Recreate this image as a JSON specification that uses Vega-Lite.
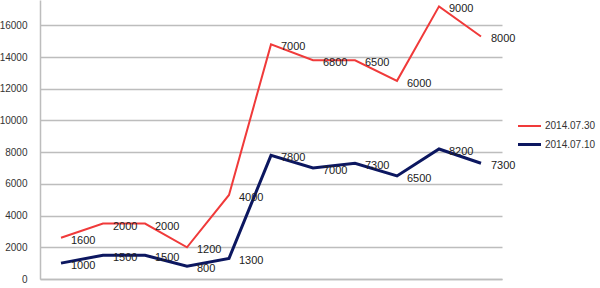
{
  "$schema": "https://vega.github.io/schema/vega-lite/v6.json",
  "width": 462,
  "height": 279,
  "autosize": "none",
  "padding": {"left": 40, "top": 0, "right": 98, "bottom": 9},
  "background": "white",
  "config": {"view": {"stroke": null}, "font": "Liberation Sans"},
  "data": {"values": [
    {"i": 1, "series": "2014.07.10", "ord": 1, "value": 1000},
    {"i": 2, "series": "2014.07.10", "ord": 1, "value": 1500},
    {"i": 3, "series": "2014.07.10", "ord": 1, "value": 1500},
    {"i": 4, "series": "2014.07.10", "ord": 1, "value": 800},
    {"i": 5, "series": "2014.07.10", "ord": 1, "value": 1300},
    {"i": 6, "series": "2014.07.10", "ord": 1, "value": 7800},
    {"i": 7, "series": "2014.07.10", "ord": 1, "value": 7000},
    {"i": 8, "series": "2014.07.10", "ord": 1, "value": 7300},
    {"i": 9, "series": "2014.07.10", "ord": 1, "value": 6500},
    {"i": 10, "series": "2014.07.10", "ord": 1, "value": 8200},
    {"i": 11, "series": "2014.07.10", "ord": 1, "value": 7300},
    {"i": 1, "series": "2014.07.30", "ord": 2, "value": 1600},
    {"i": 2, "series": "2014.07.30", "ord": 2, "value": 2000},
    {"i": 3, "series": "2014.07.30", "ord": 2, "value": 2000},
    {"i": 4, "series": "2014.07.30", "ord": 2, "value": 1200},
    {"i": 5, "series": "2014.07.30", "ord": 2, "value": 4000},
    {"i": 6, "series": "2014.07.30", "ord": 2, "value": 7000},
    {"i": 7, "series": "2014.07.30", "ord": 2, "value": 6800},
    {"i": 8, "series": "2014.07.30", "ord": 2, "value": 6500},
    {"i": 9, "series": "2014.07.30", "ord": 2, "value": 6000},
    {"i": 10, "series": "2014.07.30", "ord": 2, "value": 9000},
    {"i": 11, "series": "2014.07.30", "ord": 2, "value": 8000}
  ]},
  "transform": [
    {"stack": "value", "groupby": ["i"], "sort": [{"field": "ord", "order": "ascending"}], "as": ["y0", "y1"]}
  ],
  "encoding": {
    "x": {"field": "i", "type": "ordinal", "scale": {"type": "point", "padding": 0.5},
      "axis": {"labels": false, "ticks": false, "title": null, "domainColor": "#bdbdbd", "domainWidth": 1.5, "grid": false}},
    "y": {"field": "y1", "type": "quantitative",
      "scale": {"domain": [0, 17600], "nice": false, "zero": true},
      "axis": {"values": [0, 2000, 4000, 6000, 8000, 10000, 12000, 14000, 16000], "title": null, "ticks": false,
        "labelPadding": 13, "labelFontSize": 10, "labelColor": "#333333", "domainColor": "#bdbdbd", "domainWidth": 1.5,
        "gridColor": "#bdbdbd", "gridWidth": 1.5, "format": "d"}}
  },
  "layer": [
    {
      "mark": {"type": "line"},
      "encoding": {
        "color": {"field": "series", "type": "nominal",
          "scale": {"domain": ["2014.07.30", "2014.07.10"], "range": ["#f03a3a", "#0c1760"]},
          "legend": {"title": null, "orient": "none", "legendX": 476, "legendY": 113, "symbolType": "stroke",
            "symbolSize": 530, "symbolStrokeWidth": 3, "labelFontSize": 10, "labelColor": "#333333", "rowPadding": 0, "padding": 0, "labelOffset": 2}},
        "strokeWidth": {"field": "series", "type": "nominal", "scale": {"domain": ["2014.07.30", "2014.07.10"], "range": [2, 3]}, "legend": null}
      }
    },
    {
      "mark": {"type": "text", "align": "left", "dx": 10, "dy": 3, "fontSize": 11, "fill": "#222222"},
      "encoding": {"text": {"field": "value", "type": "quantitative", "format": "d"}}
    }
  ]
}
